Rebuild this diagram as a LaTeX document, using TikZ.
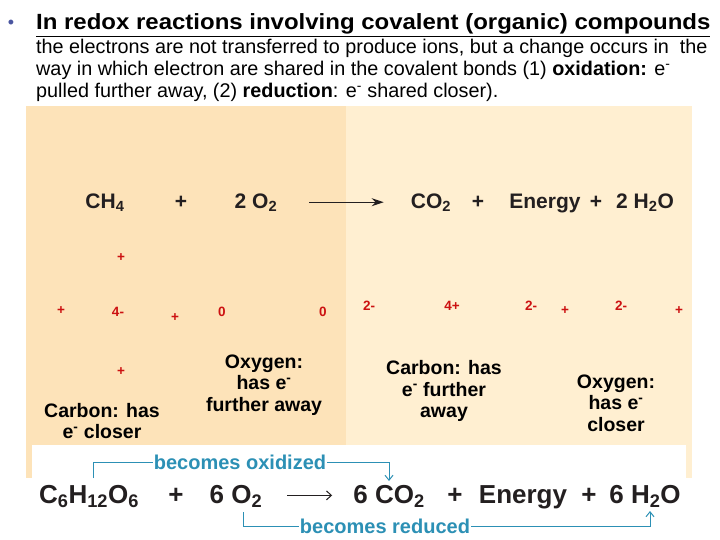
\documentclass[tikz,border=0pt]{standalone}
\usepackage{fontspec}
\setmainfont{Liberation Sans}
\newfontfamily\widesf{Liberation Sans}[FakeStretch=1.09]
\usetikzlibrary{arrows.meta,positioning}
\definecolor{panelleft}{HTML}{FDE3B9}
\definecolor{panelright}{HTML}{FFEFD1}
\definecolor{chargered}{HTML}{CC1111}
\definecolor{bracketteal}{HTML}{2C90B5}
\definecolor{inkgray}{HTML}{231F20}
\definecolor{bulletblue}{HTML}{4A56A0}

\begin{document}
\begin{tikzpicture}[x=1pt,y=-1pt,
  bodyline/.style={anchor=base west,inner sep=0pt,font=\fontsize{19.8}{22}\selectfont},
  formula/.style={anchor=base,inner sep=0pt,text=inkgray,font=\fontsize{21}{24}\bfseries},
  bigformula/.style={anchor=base,inner sep=0pt,text=inkgray,font=\fontsize{26}{28}\bfseries},
  charge/.style={inner sep=0pt,text=chargered,font=\fontsize{13.5}{14}\bfseries},
  atomnote/.style={align=center,inner sep=0pt,font=\fontsize{19.5}{21.5}\bfseries},
  bracketlbl/.style={inner sep=1pt,text=bracketteal,font=\fontsize{20}{21}\bfseries},
  bracket/.style={draw=bracketteal,line width=1pt},
  bracketarr/.style={bracket,-{Straight Barb[length=5pt,width=8pt]}},
  reactarr/.style={draw=inkgray,line width=1.4pt,-{Stealth[length=12pt,width=8pt]}},
  thinarr/.style={draw=inkgray,line width=1pt,-{Straight Barb[length=5pt,width=9pt]}}
]
\useasboundingbox (0,0) rectangle (720,540);
% background panels
\fill[panelleft] (26,106) rectangle (346,478);
\fill[panelright] (346,106) rectangle (692,478);
\fill[white] (32,445) rectangle (686,540);

% heading and explanation
\node[text=bulletblue,font=\fontsize{18}{20}\selectfont,inner sep=0pt] (bullet) at (11,24) {•};
\node[anchor=base west,inner sep=0pt,font=\fontsize{22}{24}\widesf\bfseries] (title) at (36,30)
  {\underline{In redox reactions involving covalent (organic) compounds}};
\node[bodyline] (line1) at (36,54) {the electrons are not transferred to produce ions, but a change occurs in\ \ the};
\node[bodyline] (line2) at (36,76) {way in which electron are shared in the covalent bonds (1) \textbf{oxidation:} e\textsuperscript{-}};
\node[bodyline] (line3) at (36,98) {pulled further away, (2) \textbf{reduction}: e\textsuperscript{-} shared closer).};

% methane combustion
\node[formula] (ch4) at (105,208) {CH\textsubscript{4}};
\node[formula] (plusA) at (181,208) {+};
\node[formula] (o2top) at (256,208) {2 O\textsubscript{2}};
\node[formula] (co2top) at (431,208) {CO\textsubscript{2}};
\node[formula] (plusB) at (478,208) {+};
\node[formula] (energytop) at (545,208) {Energy};
\node[formula] (plusC) at (596,208) {+};
\node[formula] (h2otop) at (645,208) {2 H\textsubscript{2}O};
\draw[reactarr,shorten <=32pt,shorten >=27pt] (o2top.east) -- (co2top.west |- o2top.east);

% oxidation numbers
\node[charge] (hA) at (121,258) {+};
\node[charge] (hB) at (61,311) {+};
\node[charge] (cA) at (118,312) {4-};
\node[charge] (hC) at (175,318) {+};
\node[charge] (hD) at (121,372) {+};
\node[charge] (oA) at (222,312) {0};
\node[charge] (oB) at (323,312) {0};
\node[charge] (oC) at (369,306) {2-};
\node[charge] (cB) at (452,306) {4+};
\node[charge] (oD) at (531,306) {2-};
\node[charge] (hE) at (565,311) {+};
\node[charge] (oE) at (621,306) {2-};
\node[charge] (hF) at (679,311) {+};

% notes on the atoms
\node[atomnote] (carbonL) at (102,421) {Carbon: has\\e\textsuperscript{-} closer};
\node[atomnote] (oxygenL) at (264,385) {Oxygen:\\has e\textsuperscript{-}\\further away};
\node[atomnote] (carbonR) at (444,391) {Carbon: has\\e\textsuperscript{-} further\\away};
\node[atomnote] (oxygenR) at (616,403) {Oxygen:\\has e\textsuperscript{-}\\closer};

% glucose respiration
\node[bigformula] (glu) at (89,503) {C\textsubscript{6}H\textsubscript{12}O\textsubscript{6}};
\node[bigformula] (plusD) at (176,503) {+};
\node[bigformula] (o2bot) at (236,503) {6 O\textsubscript{2}};
\node[bigformula] (co2bot) at (389,503) {6 CO\textsubscript{2}};
\node[bigformula] (plusE) at (455,503) {+};
\node[bigformula] (energybot) at (523,503) {Energy};
\node[bigformula] (plusF) at (589,503) {+};
\node[bigformula] (h2obot) at (645,503) {6 H\textsubscript{2}O};
\draw[thinarr,shorten <=25pt,shorten >=21pt] (o2bot.east |- plusD) -- (co2bot.west |- plusD);

% brackets
\node[bracketlbl] (oxlbl) at (240,462) {becomes oxidized};
\node[bracketlbl] (redlbl) at (385,526) {becomes reduced};
\coordinate (oxstart) at (93,478);
\coordinate (oxend) at (389,481);
\coordinate (redstart) at (243,512);
\coordinate (redend) at (650,511);
\draw[bracket] (oxstart) |- (oxlbl.west);
\draw[bracketarr] (oxlbl.east) -| (oxend);
\draw[bracket] (redstart) |- (redlbl.west);
\draw[bracketarr] (redlbl.east) -| (redend);
\end{tikzpicture}
\end{document}
